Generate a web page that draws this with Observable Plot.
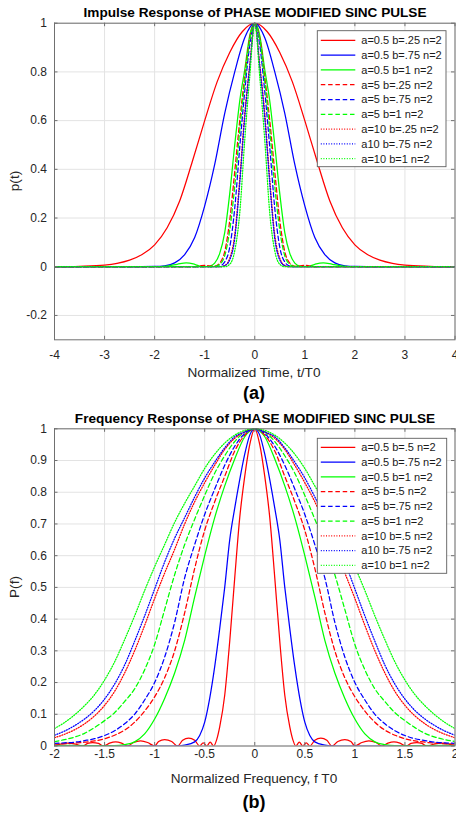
<!DOCTYPE html>
<html><head><meta charset="utf-8">
<script src="https://cdn.jsdelivr.net/npm/d3@7"></script>
<script src="https://cdn.jsdelivr.net/npm/@observablehq/plot@0.6"></script>
<style>
body{margin:0;background:#fff;}
#root{position:relative;width:456px;height:813px;overflow:hidden;font-family:"Liberation Sans",Arial,sans-serif;background:#fff;}
.lbl{position:absolute;white-space:nowrap;transform:translate(-50%,-50%);line-height:1;}
.plot{position:absolute;left:0;}
#leg{position:absolute;left:0;top:0;pointer-events:none;}
</style></head><body><div id="root"></div>
<script>
// ---------- Plot (a): impulse response, half-profiles (t >= 0); curves are symmetric about t = 0
const a1_t = [0,0.25,0.5,0.75,1,1.25,1.5,1.75,2,2.25,2.5,2.75,3,3.5,4];
const a1_p = [1,0.965,0.88,0.76,0.6,0.43,0.27,0.16,0.09,0.05,0.027,0.014,0.007,0.002,0];
const a2_t = [0,0.2,0.4,0.6,0.8,1,1.2,1.4,1.6,1.8,2,2.5,4];
const a2_p = [1,0.94,0.8,0.63,0.42,0.25,0.12,0.05,0.016,0.004,0.001,0,0];
const a3_t = [0,0.1,0.2,0.3,0.4,0.5,0.6,0.7,0.8,0.9,1.05,1.2,1.37,1.55,1.75,2,4];
const a3_p = [1,0.95,0.81,0.68,0.5,0.3,0.14,0.055,0.015,0.003,0,0.01,0.016,0.01,0.003,0,0];
const a4_t = [0,0.1,0.2,0.3,0.4,0.5,0.6,0.7,0.8,0.9,1,1.1,1.2,4];
const a4_p = [1,0.94,0.78,0.6,0.39,0.19,0.062,0.015,0.002,0.003,0.006,0.003,0,0];
const a5_t = [0,0.1,0.2,0.3,0.4,0.5,0.6,0.7,0.8,4];
const a5_p = [1,0.91,0.72,0.49,0.24,0.08,0.02,0.003,0,0];
const a6_t = [0,0.1,0.2,0.3,0.4,0.5,0.6,0.7,0.8,0.9,4];
const a6_p = [1,0.93,0.76,0.56,0.33,0.15,0.045,0.01,0.001,0,0];
const a7_t = [0,0.1,0.2,0.3,0.4,0.5,0.6,0.7,4];
const a7_p = [1,0.83,0.63,0.36,0.13,0.035,0.005,0,0];
const a8_t = [0,0.1,0.2,0.3,0.4,0.5,0.6,0.7,4];
const a8_p = [1,0.82,0.61,0.34,0.115,0.028,0.004,0,0];
const a9_t = [0,0.1,0.2,0.3,0.4,0.5,0.6,4];
const a9_p = [1,0.78,0.52,0.22,0.065,0.01,0,0];
const a_labels = ["a=0.5 b=.25 n=2","a=0.5 b=.75 n=2","a=0.5 b=1 n=2","a=5 b=.25 n=2","a=5 b=.75 n=2","a=5 b=1 n=2","a=10 b=.25 n=2","a10 b=.75 n=2","a=10 b=1 n=2"];
const a_ticksX = [-4,-3,-2,-1,0,1,2,3,4];
const a_ticksY = [-0.2,0,0.2,0.4,0.6,0.8,1];

// ---------- Plot (b): frequency response, half-profiles (f >= 0)
const b1_f = [0,0.05,0.1,0.15,0.2,0.25,0.3,0.35,0.38,0.41,0.445,0.48,0.515,0.55,0.6,0.66,0.72,0.77,0.83,0.9,0.96,1.0,1.07,1.14,1.21,1.27,1.33,1.39,1.45,1.51,1.56,1.62,1.67,1.72,1.79,1.87,1.94,2.0];
const b1_p = [1,0.95,0.85,0.72,0.53,0.33,0.16,0.06,0.02,0,0.012,0,0.01,0,0.018,0.025,0.018,0,0.014,0.02,0.014,0,0.011,0.016,0.011,0,0.009,0.013,0.009,0,0.008,0.011,0.008,0,0.006,0.009,0.006,0];
const b2_f = [0,0.05,0.1,0.15,0.2,0.25,0.3,0.35,0.4,0.45,0.5,0.55,0.6,0.7,0.8,2];
const b2_p = [1,0.98,0.92,0.84,0.75,0.65,0.5,0.37,0.25,0.15,0.075,0.033,0.013,0.003,0,0];
const b3_f = [0,0.1,0.2,0.3,0.4,0.5,0.6,0.7,0.8,0.9,1.0,1.1,1.2,1.3,1.4,1.6,2];
const b3_p = [1,0.975,0.905,0.82,0.72,0.6,0.47,0.333,0.23,0.15,0.085,0.038,0.013,0.004,0.001,0.001,0.002];
const b_grid = [0,0.1,0.2,0.3,0.4,0.5,0.6,0.7,0.8,0.9,1.0,1.1,1.2,1.3,1.4,1.5,1.6,1.7,1.8,1.9,2.0];
const b4_p = [1,0.98,0.93,0.85,0.77,0.68,0.56,0.42,0.3,0.215,0.155,0.11,0.075,0.05,0.034,0.023,0.016,0.012,0.009,0.007,0.006];
const b5_p = [1,0.985,0.945,0.885,0.81,0.73,0.635,0.53,0.39,0.28,0.2,0.145,0.1,0.07,0.048,0.033,0.023,0.017,0.012,0.01,0.008];
const b6_p = [1,0.99,0.96,0.915,0.86,0.79,0.715,0.635,0.54,0.43,0.32,0.24,0.18,0.14,0.105,0.08,0.058,0.04,0.028,0.02,0.014];
const b7_p = [1,0.99,0.97,0.935,0.885,0.83,0.77,0.7,0.62,0.545,0.465,0.38,0.3,0.23,0.172,0.128,0.095,0.07,0.051,0.037,0.026];
const b8_p = [1,0.99,0.975,0.94,0.895,0.845,0.785,0.72,0.655,0.58,0.495,0.41,0.33,0.255,0.195,0.148,0.112,0.085,0.064,0.047,0.034];
const b9_p = [1,0.995,0.98,0.955,0.92,0.875,0.82,0.765,0.705,0.635,0.565,0.49,0.41,0.335,0.265,0.208,0.162,0.127,0.098,0.074,0.055];
const b_labels = ["a=0.5 b=.5 n=2","a=0.5 b=.75 n=2","a=0.5 b=1 n=2","a=5 b=.5 n=2","a=5 b=.75 n=2","a=5 b=1 n=2","a=10 b=.5 n=2","a10 b=.75 n=2","a=10 b=1 n=2"];
const b_ticksX = [-2,-1.5,-1,-0.5,0,0.5,1,1.5,2];
const b_ticksY = [0,0.1,0.2,0.3,0.4,0.5,0.6,0.7,0.8,0.9,1];

// series styling (colour / line style per legend entry)
const colors = ["#ff0000","#0000ff","#00ff00","#ff0000","#0000ff","#00ff00","#ff0000","#0000ff","#00ff00"];
const dashes = [null,null,null,"4.5,2.8","4.5,2.8","4.5,2.8","1,1.6","1,1.6","1,1.6"];

function mirror(xs, ys) {
  const out = [];
  for (let i = xs.length - 1; i >= 1; i--) out.push({x: -xs[i], y: ys[i]});
  for (let i = 0; i < xs.length; i++) out.push({x: xs[i], y: ys[i]});
  return out;
}
const aSeries = [[a1_t,a1_p],[a2_t,a2_p],[a3_t,a3_p],[a4_t,a4_p],[a5_t,a5_p],[a6_t,a6_p],[a7_t,a7_p],[a8_t,a8_p],[a9_t,a9_p]].map(([x,y]) => mirror(x,y));
const bSeries = [[b1_f,b1_p],[b2_f,b2_p],[b3_f,b3_p],[b_grid,b4_p],[b_grid,b5_p],[b_grid,b6_p],[b_grid,b7_p],[b_grid,b8_p],[b_grid,b9_p]].map(([x,y]) => mirror(x,y));

const AX = "#262626", GRID = "#e3e3e3", FRAME = "#707070";
const fmt = d => String(d);

function makePlot({series, ticksX, ticksY, xDomain, yDomain, height, mt, mb, padX}) {
  const plotH = height - mt - mb;
  const plotW = 456 - 54 - 1.5;
  const lines = series.map((data, i) => Plot.line(data, {
    x: "x", y: "y", stroke: colors[i], strokeWidth: 1.25,
    strokeDasharray: dashes[i], curve: "monotone-x", clip: true
  }));
  return Plot.plot({
    width: 456, height, marginLeft: 54, marginRight: 1.5, marginTop: mt, marginBottom: mb,
    style: {fontFamily: '"Liberation Sans", Arial, sans-serif', fontSize: "12px", color: AX, background: "transparent"},
    x: {domain: xDomain}, y: {domain: yDomain},
    marks: [
      Plot.gridX(ticksX, {stroke: GRID, strokeOpacity: 1}),
      Plot.gridY(ticksY, {stroke: GRID, strokeOpacity: 1}),
      ...lines,
      Plot.tickX(ticksX, {x: d => d, stroke: FRAME, insetTop: plotH - 3.5}),
      Plot.tickX(ticksX, {x: d => d, stroke: FRAME, insetBottom: plotH - 3.5}),
      Plot.tickY(ticksY, {y: d => d, stroke: FRAME, insetRight: plotW - 3.5}),
      Plot.tickY(ticksY, {y: d => d, stroke: FRAME, insetLeft: plotW - 3.5}),
      Plot.frame({stroke: FRAME, strokeWidth: 1}),
      Plot.axisX(ticksX, {tickSize: 0, tickPadding: padX, tickFormat: fmt, label: null, fill: AX}),
      Plot.axisY(ticksY, {tickSize: 0, tickPadding: 7.5, tickFormat: fmt, label: null, fill: AX})
    ]
  });
}

const root = document.getElementById("root");
const pa = makePlot({series: aSeries, ticksX: a_ticksX, ticksY: a_ticksY, xDomain: [-4,4], yDomain: [-0.3,1], height: 365, mt: 22.7, mb: 25.7, padX: 11});
pa.classList.add("plot"); pa.style.top = "0px"; root.appendChild(pa);
const pb = makePlot({series: bSeries, ticksX: b_ticksX, ticksY: b_ticksY, xDomain: [-2,2], yDomain: [0,1], height: 370, mt: 28.3, mb: 24.5, padX: 3.4});
pb.classList.add("plot"); pb.style.top = "400px"; root.appendChild(pb);

function label(text, x, y, css) {
  const d = document.createElement("div");
  d.className = "lbl"; d.textContent = text;
  d.style.left = x + "px"; d.style.top = y + "px";
  Object.assign(d.style, css);
  root.appendChild(d);
  return d;
}
const titleCss = {fontWeight: "bold", fontSize: "13.6px", color: "#000"};
const axCss = {fontSize: "13.6px", color: AX};
const capCss = {fontWeight: "bold", fontSize: "18px", color: "#000"};
label("Impulse Response of PHASE MODIFIED SINC PULSE", 255, 12.7, titleCss);
label("Normalized Time, t/T0", 254, 372.7, axCss);
label("(a)", 254, 392.5, capCss);
label("Frequency Response of PHASE MODIFIED SINC PULSE", 255, 419, titleCss);
label("Normalized Frequency, f T0", 254, 778.7, axCss);
label("(b)", 254, 801.7, capCss);
label("p(t)", 15, 181, Object.assign({}, axCss, {transform: "translate(-50%,-50%) rotate(-90deg)"}));
label("P(f)", 15, 587, Object.assign({}, axCss, {transform: "translate(-50%,-50%) rotate(-90deg)"}));

// legends
const leg = d3.select(root).append("svg").attr("id","leg").attr("width",456).attr("height",813);
function legend(x0, y0, w, h, firstY, step, labels) {
  const g = leg.append("g");
  g.append("rect").attr("x", x0).attr("y", y0).attr("width", w).attr("height", h)
    .attr("fill", "#fff").attr("stroke", "#5e5e5e").attr("stroke-width", 0.9);
  labels.forEach((t, i) => {
    const y = firstY + step * i;
    g.append("line").attr("x1", x0 + 3.5).attr("x2", x0 + 38).attr("y1", y).attr("y2", y)
      .attr("stroke", colors[i]).attr("stroke-width", 1.25).attr("stroke-dasharray", dashes[i]);
    g.append("text").attr("x", x0 + 44).attr("y", y).attr("dy", "0.35em")
      .attr("font-family", '"Liberation Sans", Arial, sans-serif').attr("font-size", 11)
      .attr("fill", "#1a1a1a").text(t);
  });
}
legend(317.3, 30.7, 128.7, 136, 40.3, 14.8, a_labels);
legend(317.3, 438.3, 129.4, 135, 447.3, 14.75, b_labels);
</script></body></html>
